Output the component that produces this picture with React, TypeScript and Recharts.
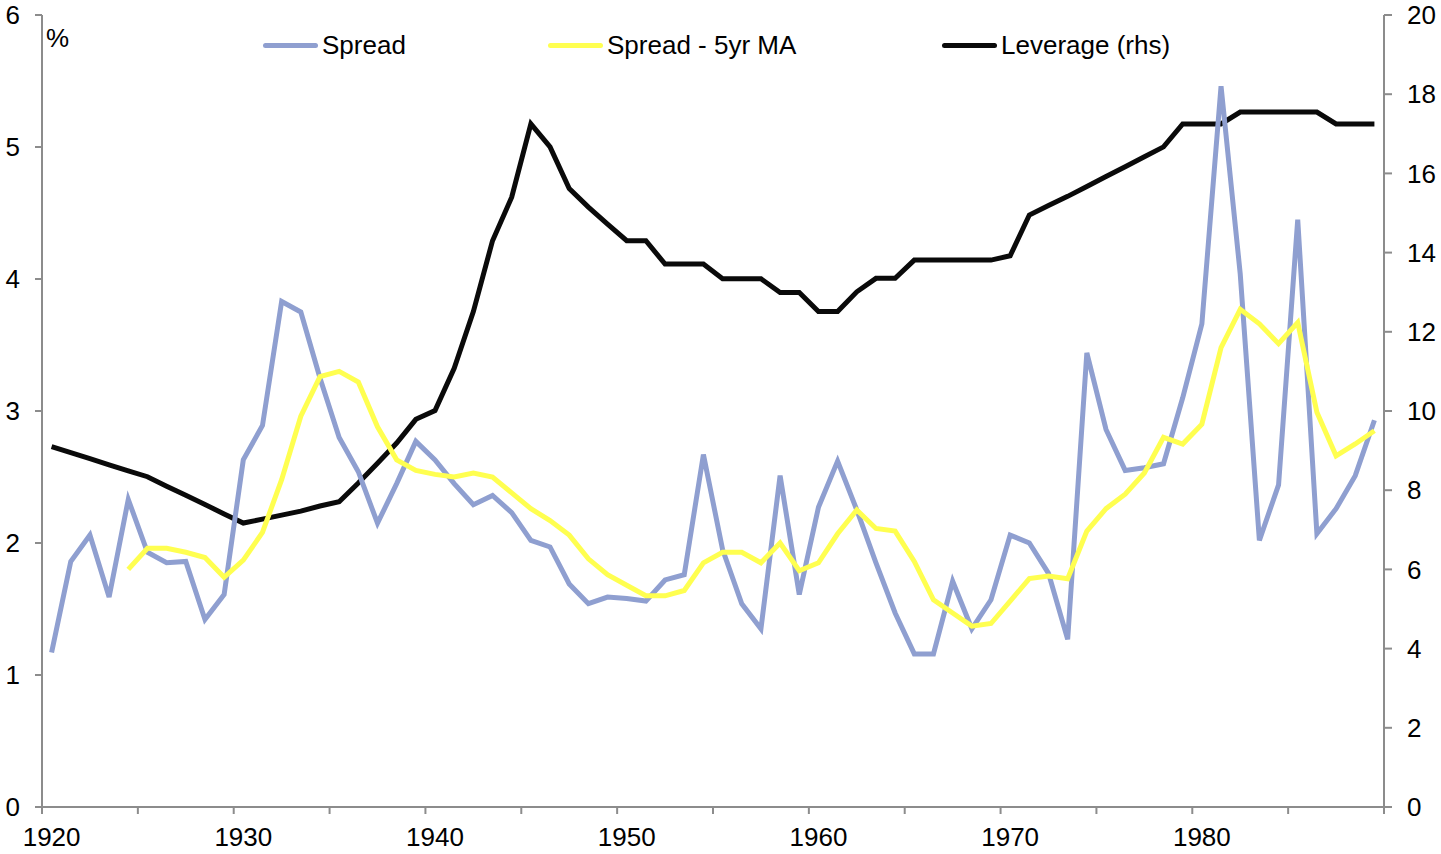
import React from 'react';
import { LineChart, Line, XAxis, YAxis } from 'recharts';

const years = [
  1920, 1921, 1922, 1923, 1924, 1925, 1926, 1927, 1928, 1929,
  1930, 1931, 1932, 1933, 1934, 1935, 1936, 1937, 1938, 1939,
  1940, 1941, 1942, 1943, 1944, 1945, 1946, 1947, 1948, 1949,
  1950, 1951, 1952, 1953, 1954, 1955, 1956, 1957, 1958, 1959,
  1960, 1961, 1962, 1963, 1964, 1965, 1966, 1967, 1968, 1969,
  1970, 1971, 1972, 1973, 1974, 1975, 1976, 1977, 1978, 1979,
  1980, 1981, 1982, 1983, 1984, 1985, 1986, 1987, 1988, 1989,
];

// spread, %
const spread = [
  1.17, 1.86, 2.06, 1.59, 2.33, 1.93, 1.85, 1.86, 1.42, 1.61,
  2.63, 2.89, 3.83, 3.75, 3.25, 2.80, 2.54, 2.15, 2.45, 2.77,
  2.63, 2.45, 2.29, 2.36, 2.23, 2.02, 1.97, 1.69, 1.54, 1.59,
  1.58, 1.56, 1.72, 1.76, 2.67, 1.95, 1.54, 1.35, 2.51, 1.61,
  2.27, 2.62, 2.25, 1.85, 1.47, 1.16, 1.16, 1.71, 1.35, 1.57,
  2.06, 2.00, 1.77, 1.27, 3.44, 2.86, 2.55, 2.57, 2.60, 3.10,
  3.66, 5.46, 4.04, 2.02, 2.44, 4.45, 2.07, 2.26, 2.51, 2.93,
];

// 5yr moving average, starts in 1924
const spreadMA = [
  null, null, null, null, 1.80, 1.96, 1.96, 1.93, 1.89, 1.74,
  1.87, 2.08, 2.48, 2.96, 3.26, 3.30, 3.22, 2.88, 2.63, 2.55,
  2.52, 2.50, 2.53, 2.50, 2.38, 2.26, 2.17, 2.06, 1.88, 1.76,
  1.68, 1.60, 1.60, 1.64, 1.85, 1.93, 1.93, 1.85, 2.00, 1.79,
  1.85, 2.07, 2.25, 2.11, 2.09, 1.86, 1.57, 1.47, 1.37, 1.39,
  1.56, 1.73, 1.75, 1.73, 2.09, 2.26, 2.37, 2.53, 2.80, 2.75,
  2.90, 3.48, 3.77, 3.66, 3.51, 3.67, 2.99, 2.66, 2.75, 2.85,
];

// leverage, right hand scale
const leverage = [
  9.10, 8.95, 8.80, 8.64, 8.49, 8.34, 8.10, 7.87, 7.64, 7.40,
  7.17, 7.27, 7.37, 7.47, 7.60, 7.71, 8.18, 8.68, 9.19, 9.79,
  10.01, 11.08, 12.51, 14.30, 15.40, 17.25, 16.67, 15.62, 15.15, 14.72,
  14.30, 14.30, 13.71, 13.71, 13.71, 13.34, 13.34, 13.34, 12.99, 12.99,
  12.51, 12.51, 13.01, 13.35, 13.35, 13.81, 13.81, 13.81, 13.81, 13.81,
  13.92, 14.95, 15.19, 15.42, 15.67, 15.92, 16.17, 16.42, 16.67, 17.25,
  17.25, 17.25, 17.55, 17.55, 17.55, 17.55, 17.55, 17.25, 17.25, 17.25,
];

const xTicks = [1920, 1925, 1930, 1935, 1940, 1945, 1950, 1955, 1960, 1965, 1970, 1975, 1980, 1985, 1990];
const leftTicks = [0, 1, 2, 3, 4, 5, 6];
const rightTicks = [0, 2, 4, 6, 8, 10, 12, 14, 16, 18, 20];

const FONT = '"Liberation Sans", Arial, sans-serif';
const AXIS = '#8c8c8c';
const BLUE = '#8f9fd0';
const YELLOW = '#ffff50';
const BLACK = '#0a0a0a';

// points sit in the middle of each year, like the original category axis
const chartData = years.map((year, i) => ({
  x: year + 0.5,
  spread: spread[i],
  ma: spreadMA[i],
  leverage: leverage[i],
}));

const legendItems = [
  { name: 'Spread', color: BLUE, left: 263 },
  { name: 'Spread - 5yr MA', color: YELLOW, left: 548 },
  { name: 'Leverage (rhs)', color: BLACK, left: 942 },
];

const tickStyle = { fill: '#000', fontSize: 26, fontFamily: FONT };

// decade labels are centred on the year, half a year right of the tick mark
const YearTick = (props: any) => {
  const { x, y, payload } = props;
  const v = payload.value;
  if (v % 10 !== 0 || v >= 1990) return <g />;
  return (
    <text x={x + 9.6} y={y} dy="0.71em" textAnchor="middle" {...tickStyle}>
      {v}
    </text>
  );
};

const App: React.FC = () => {
  return (
    <div style={{ position: 'absolute', left: 0, top: 0, width: 1441, height: 854, background: '#fff' }}>
      <LineChart
        width={1441}
        height={854}
        data={chartData}
        margin={{ top: 15, right: 0, bottom: 0, left: 0 }}
      >
        <XAxis
          dataKey="x"
          type="number"
          domain={[1920, 1990]}
          ticks={xTicks}
          interval={0}
          height={47}
          tickSize={7}
          tickMargin={14}
          stroke={AXIS}
          strokeWidth={2}
          tick={<YearTick />}
        />
        <YAxis
          yAxisId="left"
          domain={[0, 6]}
          ticks={leftTicks}
          interval={0}
          width={42}
          tickSize={7}
          tickMargin={15}
          stroke={AXIS}
          strokeWidth={2}
          tick={tickStyle}
        />
        <YAxis
          yAxisId="right"
          orientation="right"
          domain={[0, 20]}
          ticks={rightTicks}
          interval={0}
          width={57}
          tickSize={8}
          tickMargin={15}
          stroke={AXIS}
          strokeWidth={2}
          tick={tickStyle}
        />
        <Line
          yAxisId="right"
          dataKey="leverage"
          type="linear"
          stroke={BLACK}
          strokeWidth={5}
          dot={false}
          isAnimationActive={false}
        />
        <Line
          yAxisId="left"
          dataKey="spread"
          type="linear"
          stroke={BLUE}
          strokeWidth={5}
          dot={false}
          isAnimationActive={false}
        />
        <Line
          yAxisId="left"
          dataKey="ma"
          type="linear"
          stroke={YELLOW}
          strokeWidth={5}
          dot={false}
          isAnimationActive={false}
        />
      </LineChart>

      <div style={{ position: 'absolute', left: 46, top: 25, fontFamily: FONT, fontSize: 26, lineHeight: '26px' }}>%</div>

      {legendItems.map(item => (
        <div
          key={item.name}
          style={{
            position: 'absolute',
            left: item.left,
            top: 32,
            height: 26,
            display: 'flex',
            alignItems: 'center',
            fontFamily: FONT,
            fontSize: 26,
          }}
        >
          <span style={{ display: 'inline-block', width: 55, height: 5, borderRadius: 3, background: item.color, marginRight: 4 }} />
          <span>{item.name}</span>
        </div>
      ))}
    </div>
  );
};

export default App;
